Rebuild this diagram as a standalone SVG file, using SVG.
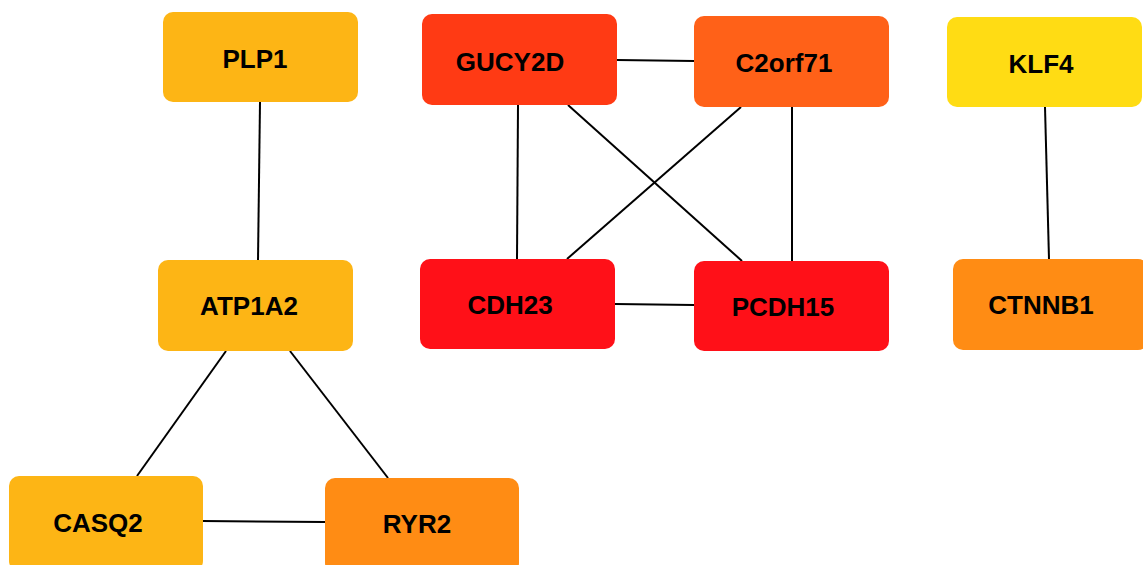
<svg xmlns="http://www.w3.org/2000/svg" width="1143" height="565" viewBox="0 0 1143 565">
<style>
.n{stroke:none}
.t{font-family:"Liberation Sans",Arial,sans-serif;font-weight:bold;font-size:26px;fill:#000;text-anchor:middle}
.e{stroke:#000;stroke-width:2;fill:none}
</style>
<rect width="1143" height="565" fill="#fff"/>
<g id="edges">
<line class="e" x1="260" y1="102" x2="258" y2="260"/>
<line class="e" x1="617" y1="60" x2="694" y2="61"/>
<line class="e" x1="518" y1="105" x2="517" y2="259"/>
<line class="e" x1="568" y1="105" x2="742" y2="261"/>
<line class="e" x1="741" y1="107" x2="567" y2="259"/>
<line class="e" x1="792" y1="107" x2="792" y2="261"/>
<line class="e" x1="615" y1="304" x2="694" y2="305"/>
<line class="e" x1="1045" y1="107" x2="1049" y2="259"/>
<line class="e" x1="226" y1="351" x2="137" y2="476"/>
<line class="e" x1="290" y1="351" x2="388" y2="478"/>
<line class="e" x1="202" y1="521" x2="325" y2="522"/>
</g>
<g id="PLP1"><rect x="163" y="12" width="195" height="90" rx="10" fill="#FDB515"/><text class="t" x="255" y="68">PLP1</text></g>
<g id="GUCY2D"><rect x="422" y="14" width="195" height="91" rx="10" fill="#FF3A14"/><text class="t" x="510" y="71">GUCY2D</text></g>
<g id="C2orf71"><rect x="694" y="16" width="195" height="91" rx="10" fill="#FF6118"/><text class="t" x="784" y="72">C2orf71</text></g>
<g id="KLF4"><rect x="947" y="17" width="195" height="90" rx="10" fill="#FFDC14"/><text class="t" x="1041" y="73">KLF4</text></g>
<g id="CDH23"><rect x="420" y="259" width="195" height="90" rx="10" fill="#FF1018"/><text class="t" x="510" y="314">CDH23</text></g>
<g id="PCDH15"><rect x="694" y="261" width="195" height="90" rx="10" fill="#FF1018"/><text class="t" x="783" y="316">PCDH15</text></g>
<g id="ATP1A2"><rect x="158" y="260" width="195" height="91" rx="10" fill="#FDB515"/><text class="t" x="249" y="315">ATP1A2</text></g>
<g id="CTNNB1"><rect x="953" y="259" width="195" height="91" rx="10" fill="#FF8C14"/><text class="t" x="1041" y="314">CTNNB1</text></g>
<g id="CASQ2"><rect x="9" y="476" width="194" height="95" rx="10" fill="#FDB515"/><text class="t" x="98" y="532">CASQ2</text></g>
<g id="RYR2"><rect x="325" y="478" width="194" height="95" rx="10" fill="#FF8C14"/><text class="t" x="417" y="533">RYR2</text></g>
</svg>
